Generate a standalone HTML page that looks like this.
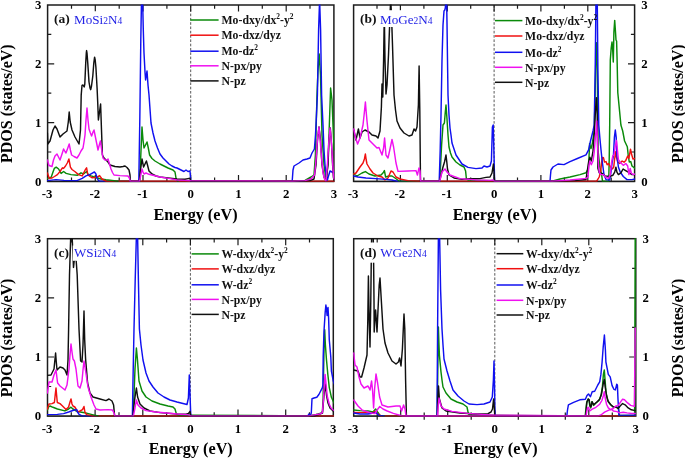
<!DOCTYPE html><html><head><meta charset="utf-8"><title>PDOS</title><style>html,body{margin:0;padding:0;background:#fff}svg{display:block;will-change:transform;transform:translateZ(0)}text{font-family:"Liberation Serif",serif}</style></head><body>
<svg width="685" height="460" viewBox="0 0 685 460">
<rect width="685" height="460" fill="#fff"/>
<g>
<clipPath id="cpa"><rect x="47.1" y="4.5" width="287.3" height="177.6"/></clipPath>
<line x1="190.7" y1="5.0" x2="190.7" y2="181.4" stroke="#222" stroke-width="0.75" stroke-dasharray="2.6,1.7"/>
<rect x="47.6" y="5.0" width="286.3" height="176.4" fill="none" stroke="#1c1c1c" stroke-width="1.5"/>
<path d="M71.5 5.0 v3.8 M71.5 181.4 v-3.8 M95.3 5.0 v6.5 M95.3 181.4 v-6.5 M119.2 5.0 v3.8 M119.2 181.4 v-3.8 M143.0 5.0 v6.5 M143.0 181.4 v-6.5 M166.9 5.0 v3.8 M166.9 181.4 v-3.8 M190.7 5.0 v6.5 M190.7 181.4 v-6.5 M214.6 5.0 v3.8 M214.6 181.4 v-3.8 M238.5 5.0 v6.5 M238.5 181.4 v-6.5 M262.3 5.0 v3.8 M262.3 181.4 v-3.8 M286.2 5.0 v6.5 M286.2 181.4 v-6.5 M310.0 5.0 v3.8 M310.0 181.4 v-3.8 M47.6 152.0 h3.7 M47.6 122.6 h6.6 M47.6 93.2 h3.7 M47.6 63.8 h6.6 M47.6 34.4 h3.7" stroke="#1c1c1c" stroke-width="1.2" fill="none"/>
<g clip-path="url(#cpa)" fill="none" stroke-width="1.45" stroke-linejoin="round" stroke-linecap="round">
<polyline points="99.0,181.2 138.6,181.2 138.8,181.2" stroke="#1010f0"/>
<polyline points="190.8,181.2 292.2,181.2" stroke="#1010f0"/>
<polyline points="118.0,181.2 139.6,181.2" stroke="#0a8a0a"/>
<polyline points="178.0,181.2 296.0,181.2" stroke="#0a8a0a"/>
<polyline points="106.0,181.2 334.2,181.2" stroke="#f01010"/>
<polyline points="47.4,178.4 51.2,177.2 53.0,172.0 54.3,168.4 56.2,167.2 58.6,169.0 61.1,173.4 63.6,171.5 66.1,173.4 71.0,174.6 77.2,175.3 81.0,172.8 83.5,174.0 86.6,171.5 87.8,174.0 91.0,175.9 94.6,177.0 100.8,179.0 106.0,179.8 112.0,180.4 118.0,181.2" stroke="#0a8a0a"/>
<polyline points="139.6,181.2 140.6,160.0 142.0,127.0 143.0,140.0 144.0,148.0 145.5,145.0 147.0,142.0 148.3,148.0 149.6,155.0 152.0,158.5 155.0,161.0 160.0,164.0 164.0,166.0 168.0,168.0 173.0,170.0 175.0,172.0 176.0,178.0 177.0,180.5 178.0,181.2" stroke="#0a8a0a"/>
<polyline points="296.0,181.2 305.0,180.5 311.0,177.0 314.0,175.0 315.4,155.0 317.0,95.0 318.0,70.0 319.2,54.0 320.5,75.0 322.0,135.0 324.0,165.0 325.5,176.0 326.6,179.0 328.0,160.0 329.0,135.0 330.6,88.0 332.0,100.0 333.0,125.0 334.0,150.0" stroke="#0a8a0a"/>
<polyline points="47.4,173.0 49.3,178.4 52.0,178.0 54.5,176.5 57.4,174.6 60.0,171.5 62.4,167.8 63.6,168.4 65.5,166.0 67.3,163.0 68.9,159.0 70.4,167.2 72.0,169.5 74.8,171.5 78.5,174.6 82.2,175.9 85.3,169.7 86.6,167.8 87.8,174.6 90.0,176.5 92.2,177.8 97.1,177.2 99.6,175.6 102.0,179.0 106.0,181.2" stroke="#f01010"/>
<polyline points="47.4,180.6 56.0,179.6 64.0,180.4 77.0,180.6 82.2,178.4 86.0,175.9 89.7,174.6 92.8,172.8 94.4,171.9 95.9,174.0 97.1,178.4 99.0,181.2" stroke="#1010f0"/>
<polyline points="138.8,181.2 139.8,120.0 140.8,40.0 141.5,0.0 142.6,0.0 143.3,30.0 144.0,53.0 145.0,72.0 145.6,80.0 147.0,71.0 148.0,85.0 149.0,95.0 151.0,123.0 153.0,133.0 155.0,141.0 157.5,148.0 160.0,154.0 163.0,158.0 166.0,161.0 169.0,164.0 172.0,166.0 175.0,167.5 177.0,168.0 181.0,170.0 184.0,171.5 186.0,170.0 188.0,171.5 190.0,171.0 190.8,181.2" stroke="#1010f0"/>
<polyline points="292.2,181.2 293.0,170.0 294.0,166.0 299.0,163.0 303.0,160.0 307.0,159.0 310.0,158.0 312.0,153.0 314.4,149.0 315.5,135.0 316.0,125.0 317.4,95.0 318.6,30.0 319.6,0.0 320.6,30.0 321.6,95.0 323.0,125.0 324.0,150.0 325.0,165.0 326.3,176.0 327.4,180.0 328.5,176.0 330.0,171.0 332.0,172.0 334.0,173.0" stroke="#1010f0"/>
<polyline points="47.4,133.0 47.8,144.0 50.0,141.0 53.0,130.0 55.0,126.0 57.0,129.0 60.0,137.0 63.0,134.0 67.0,131.0 68.3,122.0 69.2,112.0 70.2,122.0 72.0,130.0 75.0,137.0 79.0,144.0 80.5,130.0 81.2,95.0 82.0,85.5 83.0,85.0 84.2,87.0 84.8,84.0 85.7,63.6 86.3,53.0 86.6,50.6 87.0,53.0 87.8,63.6 89.0,82.0 90.0,88.0 90.7,89.7 91.5,86.0 92.8,76.0 93.8,63.0 94.6,57.2 95.2,60.0 95.9,67.3 97.1,88.4 97.7,102.0 98.4,120.0 99.5,112.0 100.6,104.0 101.5,130.0 102.4,155.0 104.0,158.0 106.0,160.0 108.0,162.0 110.0,165.0 115.0,166.5 120.0,167.0 123.0,166.5 125.0,166.0 127.0,167.5 129.0,170.0 130.0,175.0 130.4,181.2 139.4,181.2 140.5,170.0 142.0,159.0 143.6,167.0 145.0,164.0 146.4,161.0 147.5,165.0 149.0,171.0 152.0,174.0 156.0,176.0 160.0,177.0 168.0,178.0 177.0,179.0 185.0,179.3 188.0,178.6 190.0,178.2 190.6,181.2 300.0,181.2 310.0,180.5 314.0,179.0 316.0,165.0 317.5,140.0 319.0,127.0 320.5,140.0 322.0,165.0 324.0,177.0 326.0,180.8 328.0,165.0 329.0,140.0 330.3,128.0 331.6,145.0 332.6,165.0 333.4,177.0 334.0,180.0" stroke="#101010"/>
<polyline points="47.4,160.0 49.0,165.5 52.0,166.5 53.5,160.0 55.0,156.0 57.0,154.0 58.5,157.0 60.0,160.0 62.0,154.0 63.6,149.0 65.0,151.5 66.0,153.0 67.8,148.0 69.2,144.0 70.4,150.0 71.6,155.0 74.0,156.5 77.0,158.0 79.0,155.0 81.0,151.0 83.0,148.0 84.0,142.0 85.0,135.0 86.0,120.0 87.0,108.0 88.0,120.0 89.0,129.0 90.4,133.0 91.6,136.0 93.0,132.0 94.0,130.0 96.0,140.0 98.0,150.0 99.3,145.0 100.4,141.0 101.7,150.0 103.0,158.0 105.0,160.0 106.5,160.0 108.0,159.0 109.5,164.0 111.0,169.0 112.5,172.5 114.0,175.0 120.0,175.6 128.0,176.0 129.4,178.0 130.2,181.2 139.6,181.2 140.8,175.0 142.0,169.0 143.0,172.0 144.0,174.0 146.0,173.0 149.0,174.3 152.0,175.0 160.0,177.0 170.0,178.6 177.0,180.0 185.0,180.4 190.6,180.8 292.5,181.2 305.0,180.6 311.0,179.0 314.6,175.0 316.0,160.0 317.0,145.0 318.0,134.0 319.0,127.0 320.0,138.0 321.0,151.0 322.0,163.0 323.0,173.0 324.5,179.0 326.0,181.0 327.0,170.0 328.0,155.0 329.0,140.0 330.0,128.0 330.8,135.0 331.6,145.0 332.6,162.0 333.4,175.0 334.0,179.0" stroke="#f010f0"/>
</g>
<line x1="47.6" y1="181.4" x2="333.9" y2="181.4" stroke="#1c1c1c" stroke-width="1.5" stroke-opacity="0.4"/>
<g font-weight="bold" font-size="12.8" fill="#000">
<text x="47.1" y="198.4" text-anchor="middle">-3</text>
<text x="94.8" y="198.4" text-anchor="middle">-2</text>
<text x="142.5" y="198.4" text-anchor="middle">-1</text>
<text x="190.7" y="198.4" text-anchor="middle">0</text>
<text x="238.5" y="198.4" text-anchor="middle">1</text>
<text x="286.2" y="198.4" text-anchor="middle">2</text>
<text x="333.9" y="198.4" text-anchor="middle">3</text>
<text x="41.3" y="185.6" text-anchor="end">0</text>
<text x="41.3" y="126.8" text-anchor="end">1</text>
<text x="41.3" y="68.0" text-anchor="end">2</text>
<text x="41.3" y="9.2" text-anchor="end">3</text>
</g>
<text x="195.5" y="220.0" text-anchor="middle" font-weight="bold" font-size="16.2">Energy (eV)</text>
<text transform="translate(11.6,103.7) rotate(-90)" text-anchor="middle" font-weight="bold" font-size="16">PDOS (states/eV)</text>
<rect x="52.1" y="11.5" width="17.0" height="15.5" fill="#fff"/>
<rect x="72.8" y="11.5" width="52.0" height="15.5" fill="#fff"/>
<text x="54.0" y="23.4" font-weight="bold" font-size="13.5" fill="#111">(a)</text>
<text x="74.1" y="23.6" font-size="13.1" fill="#2222e6">MoSi<tspan font-size="9.5">2</tspan>N<tspan font-size="9.5">4</tspan></text>
<g font-weight="bold" font-size="11.75" fill="#111">
<line x1="190.3" y1="20.0" x2="218.6" y2="20.0" stroke="#0a8a0a" stroke-width="1.5"/>
<text x="221.5" y="24.2">Mo-dxy/dx<tspan font-size="7.4" dy="-5">2</tspan><tspan dy="5">-y</tspan><tspan font-size="7.4" dy="-5">2</tspan></text>
<line x1="190.3" y1="35.2" x2="218.6" y2="35.2" stroke="#f01010" stroke-width="1.5"/>
<text x="221.5" y="39.4">Mo-dxz/dyz</text>
<line x1="190.3" y1="51.2" x2="218.6" y2="51.2" stroke="#1010f0" stroke-width="1.5"/>
<text x="221.5" y="55.4">Mo-dz<tspan font-size="7.4" dy="-5">2</tspan></text>
<line x1="190.3" y1="65.8" x2="218.6" y2="65.8" stroke="#f010f0" stroke-width="1.5"/>
<text x="221.5" y="70.0">N-px/py</text>
<line x1="190.3" y1="80.9" x2="218.6" y2="80.9" stroke="#101010" stroke-width="1.5"/>
<text x="221.5" y="85.1">N-pz</text>
</g>
</g>
<g>
<clipPath id="cpb"><rect x="353.1" y="4.5" width="282.0" height="177.6"/></clipPath>
<line x1="494.1" y1="5.0" x2="494.1" y2="181.4" stroke="#222" stroke-width="0.75" stroke-dasharray="2.6,1.7"/>
<rect x="353.6" y="5.0" width="281.0" height="176.4" fill="none" stroke="#1c1c1c" stroke-width="1.5"/>
<path d="M377.0 5.0 v3.8 M377.0 181.4 v-3.8 M400.4 5.0 v6.5 M400.4 181.4 v-6.5 M423.9 5.0 v3.8 M423.9 181.4 v-3.8 M447.3 5.0 v6.5 M447.3 181.4 v-6.5 M470.7 5.0 v3.8 M470.7 181.4 v-3.8 M494.1 5.0 v6.5 M494.1 181.4 v-6.5 M517.5 5.0 v3.8 M517.5 181.4 v-3.8 M540.9 5.0 v6.5 M540.9 181.4 v-6.5 M564.4 5.0 v3.8 M564.4 181.4 v-3.8 M587.8 5.0 v6.5 M587.8 181.4 v-6.5 M611.2 5.0 v3.8 M611.2 181.4 v-3.8 M634.6 152.0 h-3.7 M634.6 122.6 h-6.6 M634.6 93.2 h-3.7 M634.6 63.8 h-6.6 M634.6 34.4 h-3.7" stroke="#1c1c1c" stroke-width="1.2" fill="none"/>
<g clip-path="url(#cpb)" fill="none" stroke-width="1.45" stroke-linejoin="round" stroke-linecap="round">
<polyline points="397.0,181.2 439.2,181.2 439.2,181.2" stroke="#1010f0"/>
<polyline points="494.6,181.2 550.0,181.2" stroke="#1010f0"/>
<polyline points="420.0,181.2 439.6,181.2" stroke="#0a8a0a"/>
<polyline points="602.5,181.2 608.7,181.2" stroke="#0a8a0a"/>
<polyline points="420.0,181.2 596.7,181.2" stroke="#f01010"/>
<polyline points="353.7,174.0 357.0,176.0 362.0,173.0 365.4,171.6 369.0,174.0 375.0,176.0 381.0,175.0 383.0,173.0 384.4,170.6 385.6,177.0 389.0,176.0 392.0,176.0 395.0,178.0 399.0,181.0 420.0,181.2" stroke="#0a8a0a"/>
<polyline points="439.6,181.2 440.6,165.0 441.6,145.0 443.0,125.0 444.4,123.0 445.3,112.0 446.0,105.0 447.0,119.0 448.0,135.0 449.0,147.0 450.5,153.0 452.0,157.0 456.0,162.0 460.0,165.0 464.0,167.0 465.6,171.0 466.4,179.0 468.0,180.0 480.0,180.4 494.4,180.6 552.0,181.2 560.0,179.0 570.0,177.0 580.0,174.6 586.0,172.8 588.4,168.4 588.9,159.7 589.6,143.6 591.0,148.6 592.3,143.6 594.2,131.0 595.0,100.0 595.8,60.0 596.6,42.7 597.3,70.0 598.0,149.8 599.8,167.0 601.6,174.6 602.5,181.2" stroke="#0a8a0a"/>
<polyline points="608.7,181.2 609.2,160.0 609.7,125.0 610.3,60.0 611.2,48.0 612.0,42.0 612.7,50.0 613.3,62.0 613.9,32.0 614.7,20.4 615.5,32.0 616.0,40.0 616.6,41.0 617.1,60.0 617.8,92.8 619.6,111.4 620.9,125.0 622.7,131.0 624.6,141.0 627.3,146.7 628.3,156.0 629.3,162.0 630.8,161.6 632.0,166.0 635.0,168.4" stroke="#0a8a0a"/>
<polyline points="353.7,174.0 356.0,173.0 360.0,167.0 363.0,163.0 364.4,159.0 365.4,154.0 366.2,160.0 367.0,164.0 370.0,169.0 373.0,173.0 378.0,176.0 382.0,177.0 385.0,180.0 388.0,178.0 391.0,171.0 393.0,172.0 396.0,177.0 400.0,179.0 408.0,180.6 420.0,181.2" stroke="#f01010"/>
<polyline points="596.7,181.2 599.2,177.0 600.8,171.0 601.6,162.0 602.5,157.5 603.5,157.8 604.5,162.0 606.0,161.6 607.2,164.7 608.5,163.5 610.3,166.6 612.2,169.0 613.7,167.2 614.7,158.5 615.7,151.7 616.5,157.3 617.8,162.2 619.6,163.5 622.1,161.0 624.0,162.2 625.8,160.4 627.7,156.0 628.9,158.5 630.5,149.2 631.7,154.8 633.0,159.0 635.0,158.5" stroke="#f01010"/>
<polyline points="353.7,176.0 358.0,177.0 366.0,178.0 376.0,178.6 386.0,179.4 392.0,180.0 397.0,181.2" stroke="#1010f0"/>
<polyline points="439.2,181.2 440.2,150.0 441.0,115.0 442.0,60.0 443.0,25.0 444.0,11.0 444.8,10.0 445.3,8.0 446.0,0.0 446.6,0.0 447.0,23.0 447.5,60.0 448.0,95.0 449.0,115.0 450.0,128.0 451.0,135.0 452.0,143.0 454.0,149.0 456.0,155.0 458.0,158.0 462.0,164.0 468.0,167.4 476.0,168.6 482.0,168.0 484.0,166.0 487.0,167.0 490.0,166.0 491.4,161.0 492.4,127.0 493.2,125.0 494.0,155.0 494.6,181.2" stroke="#1010f0"/>
<polyline points="550.0,181.2 550.5,175.0 551.0,170.0 553.0,167.0 558.0,164.0 564.0,164.6 570.0,161.6 577.4,158.5 586.0,154.8 588.6,149.8 590.5,141.0 593.0,131.0 594.2,125.0 595.2,70.0 595.9,5.0 596.6,0.0 597.3,5.0 597.9,70.0 598.8,125.0 599.8,137.4 601.0,149.8 602.3,162.0 604.0,174.6 606.0,179.6 609.7,180.0 611.0,172.0 612.2,162.0 613.4,156.0 614.4,137.4 615.3,130.0 616.2,137.4 616.9,156.0 618.4,167.0 620.2,172.0 623.3,176.5 627.0,179.6 632.0,179.6 635.0,179.0" stroke="#1010f0"/>
<polyline points="353.7,130.0 356.0,140.0 357.3,134.0 358.4,129.0 360.0,138.0 362.0,132.0 365.0,130.0 369.0,132.0 372.0,135.0 376.0,136.0 378.0,138.0 380.0,131.0 381.4,107.0 382.0,84.0 382.8,97.0 383.6,60.0 384.3,14.0 385.0,60.0 386.0,94.0 387.0,85.0 388.5,55.0 390.0,15.0 390.7,0.0 391.5,15.0 392.5,45.0 394.0,95.0 395.5,110.0 397.0,121.0 400.0,128.0 404.0,133.0 409.0,136.0 412.0,135.0 414.0,129.0 415.6,131.0 417.0,127.0 418.4,105.0 419.1,66.0 419.8,110.0 420.5,181.2 439.6,181.2 441.0,175.0 443.0,167.0 444.5,162.0 446.0,155.0 446.8,162.0 447.5,169.0 449.0,175.0 454.0,178.0 462.0,179.4 470.0,178.6 480.0,178.6 486.0,177.4 490.0,177.0 492.0,173.0 493.4,164.0 494.0,172.0 494.6,181.2 550.0,181.2 575.0,180.6 586.0,179.5 588.6,162.0 589.9,157.3 591.3,161.0 593.0,151.0 594.5,130.0 595.5,110.0 596.4,97.8 597.2,115.0 597.9,168.4 599.2,172.8 602.3,173.4 604.7,175.9 609.7,176.5 612.8,175.3 614.7,172.2 615.9,167.2 616.9,172.2 618.4,174.6 620.9,172.8 623.1,169.0 625.2,170.3 628.3,172.2 632.0,174.6 635.0,174.6" stroke="#101010"/>
<polyline points="353.7,129.0 355.6,138.0 357.6,144.0 360.0,138.0 363.0,125.0 364.3,113.0 365.4,102.0 366.2,112.0 367.0,121.0 369.0,140.0 372.0,143.0 377.0,148.0 379.0,147.5 382.0,155.0 383.6,148.0 384.6,138.0 385.3,147.0 386.0,155.0 388.0,158.0 390.0,149.0 392.0,139.4 393.6,147.0 396.0,163.0 398.0,171.4 408.0,171.0 416.0,170.6 417.4,175.0 419.0,168.0 420.0,171.0 420.6,181.2 439.8,181.2 441.0,176.0 442.0,172.0 445.0,169.0 447.0,172.0 450.0,175.0 460.0,178.6 477.0,180.0 490.0,180.4 493.0,180.0 494.4,181.2 552.0,181.2 570.0,180.0 586.0,178.4 588.0,177.0 588.9,166.0 589.9,161.0 591.3,164.7 593.0,161.0 594.2,152.3 595.4,137.4 596.3,127.5 596.7,121.0 597.3,137.4 598.3,162.2 599.2,172.0 601.0,174.6 603.5,174.6 605.4,177.0 608.5,178.4 610.3,174.6 611.6,162.2 612.8,156.0 614.0,154.8 615.3,146.0 616.5,140.5 617.4,149.8 618.4,159.7 620.2,162.2 623.3,165.3 625.8,163.5 627.7,166.0 628.9,174.6 630.2,168.4 631.4,173.4 633.3,174.6 635.0,174.0" stroke="#f010f0"/>
</g>
<line x1="353.6" y1="181.4" x2="634.6" y2="181.4" stroke="#1c1c1c" stroke-width="1.5" stroke-opacity="0.4"/>
<g font-weight="bold" font-size="12.8" fill="#000">
<text x="353.1" y="198.4" text-anchor="middle">-3</text>
<text x="399.9" y="198.4" text-anchor="middle">-2</text>
<text x="446.8" y="198.4" text-anchor="middle">-1</text>
<text x="494.1" y="198.4" text-anchor="middle">0</text>
<text x="540.9" y="198.4" text-anchor="middle">1</text>
<text x="587.8" y="198.4" text-anchor="middle">2</text>
<text x="634.6" y="198.4" text-anchor="middle">3</text>
<text x="641.2" y="185.6" text-anchor="start">0</text>
<text x="641.2" y="126.8" text-anchor="start">1</text>
<text x="641.2" y="68.0" text-anchor="start">2</text>
<text x="641.2" y="9.2" text-anchor="start">3</text>
</g>
<text x="494.8" y="220.0" text-anchor="middle" font-weight="bold" font-size="16.2">Energy (eV)</text>
<text transform="translate(682.8,103.7) rotate(-90)" text-anchor="middle" font-weight="bold" font-size="16">PDOS (states/eV)</text>
<rect x="358.1" y="10.2" width="17.0" height="16.8" fill="#fff"/>
<rect x="378.8" y="10.2" width="58.0" height="16.8" fill="#fff"/>
<text x="360.0" y="23.4" font-weight="bold" font-size="13.5" fill="#111">(b)</text>
<text x="380.1" y="23.6" font-size="13.1" fill="#2222e6">MoGe<tspan font-size="9.5">2</tspan>N<tspan font-size="9.5">4</tspan></text>
<g font-weight="bold" font-size="11.75" fill="#111">
<line x1="495.0" y1="20.6" x2="522.4" y2="20.6" stroke="#0a8a0a" stroke-width="1.5"/>
<text x="525.1" y="24.8">Mo-dxy/dx<tspan font-size="7.4" dy="-5">2</tspan><tspan dy="5">-y</tspan><tspan font-size="7.4" dy="-5">2</tspan></text>
<line x1="495.0" y1="36.0" x2="522.4" y2="36.0" stroke="#f01010" stroke-width="1.5"/>
<text x="525.1" y="40.2">Mo-dxz/dyz</text>
<line x1="495.0" y1="52.3" x2="522.4" y2="52.3" stroke="#1010f0" stroke-width="1.5"/>
<text x="525.1" y="56.5">Mo-dz<tspan font-size="7.4" dy="-5">2</tspan></text>
<line x1="495.0" y1="67.3" x2="522.4" y2="67.3" stroke="#f010f0" stroke-width="1.5"/>
<text x="525.1" y="71.5">N-px/py</text>
<line x1="495.0" y1="82.3" x2="522.4" y2="82.3" stroke="#101010" stroke-width="1.5"/>
<text x="525.1" y="86.5">N-pz</text>
</g>
</g>
<g>
<clipPath id="cpc"><rect x="47.0" y="238.2" width="286.8" height="178.6"/></clipPath>
<line x1="190.4" y1="238.7" x2="190.4" y2="416.1" stroke="#222" stroke-width="0.75" stroke-dasharray="2.6,1.7"/>
<rect x="47.5" y="238.7" width="285.8" height="177.4" fill="none" stroke="#1c1c1c" stroke-width="1.5"/>
<path d="M71.3 238.7 v3.8 M71.3 416.1 v-3.8 M95.1 238.7 v6.5 M95.1 416.1 v-6.5 M119.0 238.7 v3.8 M119.0 416.1 v-3.8 M142.8 238.7 v6.5 M142.8 416.1 v-6.5 M166.6 238.7 v3.8 M166.6 416.1 v-3.8 M190.4 238.7 v6.5 M190.4 416.1 v-6.5 M214.2 238.7 v3.8 M214.2 416.1 v-3.8 M238.0 238.7 v6.5 M238.0 416.1 v-6.5 M261.9 238.7 v3.8 M261.9 416.1 v-3.8 M285.7 238.7 v6.5 M285.7 416.1 v-6.5 M309.5 238.7 v3.8 M309.5 416.1 v-3.8 M47.5 386.5 h3.7 M47.5 357.0 h6.6 M47.5 327.4 h3.7 M47.5 297.8 h6.6 M47.5 268.3 h3.7" stroke="#1c1c1c" stroke-width="1.2" fill="none"/>
<g clip-path="url(#cpc)" fill="none" stroke-width="1.45" stroke-linejoin="round" stroke-linecap="round">
<polyline points="82.0,415.9 132.4,415.9 132.4,415.9" stroke="#1010f0"/>
<polyline points="190.8,415.9 307.8,415.9" stroke="#1010f0"/>
<polyline points="98.0,415.9 133.0,415.9" stroke="#0a8a0a"/>
<polyline points="92.0,415.9 334.2,415.9" stroke="#f01010"/>
<polyline points="47.4,410.0 48.6,407.0 50.0,406.0 53.0,407.3 57.4,409.0 64.9,410.9 68.6,409.0 71.0,407.2 72.9,409.0 77.3,411.5 84.7,412.8 92.2,414.6 98.0,415.9" stroke="#0a8a0a"/>
<polyline points="133.0,415.9 134.0,395.0 135.0,369.0 136.4,348.0 137.4,359.0 139.0,381.0 142.0,391.0 146.0,397.0 152.0,401.0 160.0,404.0 168.0,406.0 173.0,407.0 175.0,409.0 176.4,414.0 178.0,415.0 190.8,415.2 308.0,415.9 316.0,414.5 321.0,413.3 322.4,411.5 323.1,398.7 323.6,371.0 324.1,345.0 324.7,329.8 325.4,345.0 326.5,360.0 327.9,375.0 329.3,387.6 331.4,397.3 334.2,403.5" stroke="#0a8a0a"/>
<polyline points="47.4,409.0 49.0,404.0 52.0,403.6 54.4,402.5 55.3,394.0 56.0,388.0 56.6,395.0 57.3,402.5 60.0,403.6 62.0,405.5 66.0,409.6 68.6,407.0 70.0,402.0 71.0,399.0 72.0,404.0 73.0,406.0 74.8,407.0 77.9,412.0 80.0,411.0 82.5,409.6 84.0,406.5 84.9,412.0 86.5,414.6 92.0,415.9" stroke="#f01010"/>
<polyline points="47.4,414.6 57.4,414.4 63.6,413.6 68.6,412.0 73.5,410.3 76.6,409.6 77.5,412.0 79.1,414.4 82.0,415.9" stroke="#1010f0"/>
<polyline points="132.4,415.9 133.0,380.0 134.0,329.0 135.2,280.0 136.4,236.0 137.6,236.0 138.4,280.0 139.4,329.0 141.0,345.0 143.0,360.0 146.0,373.0 149.0,381.0 153.0,387.0 158.0,393.0 164.0,397.0 170.0,400.0 177.0,402.0 183.0,403.5 187.0,404.5 188.4,398.0 189.3,375.0 189.9,392.0 190.8,415.9" stroke="#1010f0"/>
<polyline points="307.8,415.9 309.0,414.0 310.5,415.0 311.3,413.0 312.0,398.7 314.0,398.0 316.8,397.3 318.9,394.5 322.4,387.6 322.9,384.8 323.2,357.0 324.0,331.0 325.2,312.0 325.9,305.0 326.5,309.0 327.1,315.5 327.6,310.0 328.0,307.4 328.6,318.0 329.3,340.0 330.8,357.0 331.4,371.0 333.2,380.6 334.2,384.0" stroke="#1010f0"/>
<polyline points="47.4,375.4 51.0,375.0 54.0,369.0 54.9,360.0 55.6,353.0 56.3,362.0 57.0,370.0 60.0,367.0 63.0,368.0 65.0,370.0 67.0,375.0 68.0,360.0 68.6,329.0 69.5,275.0 70.6,240.0 71.0,225.0 71.6,225.0 72.5,245.0 73.5,267.4 74.2,261.0 75.2,258.0 76.2,261.0 77.2,275.0 79.0,329.0 80.6,361.0 82.0,362.0 83.0,345.0 84.0,311.0 84.7,340.0 85.6,359.0 87.6,383.0 90.0,393.0 93.0,397.0 100.0,399.0 106.0,400.6 109.0,399.0 112.0,401.0 113.6,405.0 114.6,415.9 133.0,415.9 134.0,405.0 135.0,397.0 136.4,388.0 137.6,397.0 140.0,404.0 144.0,408.0 150.0,411.0 160.0,412.6 177.0,414.0 186.0,414.2 188.5,413.5 190.0,411.5 190.8,415.9 315.0,415.9 322.5,413.0 324.0,395.0 325.3,384.0 326.5,395.0 328.0,403.0 330.0,408.0 334.2,412.0" stroke="#101010"/>
<polyline points="47.4,393.0 49.0,382.0 52.0,382.0 54.0,375.0 56.0,370.0 57.6,383.0 60.0,386.0 65.0,390.0 67.0,385.0 69.0,369.0 70.0,355.0 71.0,344.0 72.0,352.0 73.0,359.0 74.4,361.0 76.0,369.0 78.0,386.0 80.0,388.0 82.0,381.0 83.0,370.0 84.0,361.0 85.6,371.0 88.0,387.0 91.0,397.0 94.0,405.0 96.0,409.0 100.0,410.0 108.0,409.6 112.4,410.0 114.0,413.0 114.8,415.9 133.4,415.9 135.0,408.0 136.4,400.0 138.0,405.0 141.0,408.0 146.0,410.6 156.0,412.0 177.0,414.0 188.0,414.8 190.6,415.9 309.0,415.9 319.6,414.0 322.4,412.6 323.5,398.7 324.5,382.0 325.1,374.4 326.1,384.8 327.2,396.0 329.3,404.3 331.4,408.5 334.2,410.8" stroke="#f010f0"/>
</g>
<line x1="47.5" y1="416.1" x2="333.3" y2="416.1" stroke="#1c1c1c" stroke-width="1.5" stroke-opacity="0.4"/>
<g font-weight="bold" font-size="12.8" fill="#000">
<text x="47.0" y="433.1" text-anchor="middle">-3</text>
<text x="94.6" y="433.1" text-anchor="middle">-2</text>
<text x="142.3" y="433.1" text-anchor="middle">-1</text>
<text x="190.4" y="433.1" text-anchor="middle">0</text>
<text x="238.0" y="433.1" text-anchor="middle">1</text>
<text x="285.7" y="433.1" text-anchor="middle">2</text>
<text x="333.3" y="433.1" text-anchor="middle">3</text>
<text x="41.2" y="420.3" text-anchor="end">0</text>
<text x="41.2" y="361.2" text-anchor="end">1</text>
<text x="41.2" y="302.0" text-anchor="end">2</text>
<text x="41.2" y="242.9" text-anchor="end">3</text>
</g>
<text x="190.7" y="453.6" text-anchor="middle" font-weight="bold" font-size="16.2">Energy (eV)</text>
<text transform="translate(11.6,337.9) rotate(-90)" text-anchor="middle" font-weight="bold" font-size="16">PDOS (states/eV)</text>
<rect x="52.0" y="245.5" width="17.0" height="15.3" fill="#fff"/>
<rect x="72.7" y="245.5" width="48.0" height="15.3" fill="#fff"/>
<text x="53.9" y="257.1" font-weight="bold" font-size="13.5" fill="#111">(c)</text>
<text x="74.0" y="257.3" font-size="13.1" fill="#2222e6">WSi<tspan font-size="9.5">2</tspan>N<tspan font-size="9.5">4</tspan></text>
<g font-weight="bold" font-size="11.75" fill="#111">
<line x1="191.6" y1="253.9" x2="218.8" y2="253.9" stroke="#0a8a0a" stroke-width="1.5"/>
<text x="221.4" y="258.1">W-dxy/dx<tspan font-size="7.4" dy="-5">2</tspan><tspan dy="5">-y</tspan><tspan font-size="7.4" dy="-5">2</tspan></text>
<line x1="191.6" y1="268.9" x2="218.8" y2="268.9" stroke="#f01010" stroke-width="1.5"/>
<text x="221.4" y="273.1">W-dxz/dyz</text>
<line x1="191.6" y1="284.8" x2="218.8" y2="284.8" stroke="#1010f0" stroke-width="1.5"/>
<text x="221.4" y="289.0">W-dz<tspan font-size="7.4" dy="-5">2</tspan></text>
<line x1="191.6" y1="299.4" x2="218.8" y2="299.4" stroke="#f010f0" stroke-width="1.5"/>
<text x="221.4" y="303.6">N-px/py</text>
<line x1="191.6" y1="314.4" x2="218.8" y2="314.4" stroke="#101010" stroke-width="1.5"/>
<text x="221.4" y="318.6">N-pz</text>
</g>
</g>
<g>
<clipPath id="cpd"><rect x="353.2" y="238.2" width="283.1" height="178.6"/></clipPath>
<line x1="494.8" y1="238.7" x2="494.8" y2="416.1" stroke="#222" stroke-width="0.75" stroke-dasharray="2.6,1.7"/>
<rect x="353.7" y="238.7" width="282.1" height="177.4" fill="none" stroke="#1c1c1c" stroke-width="1.5"/>
<path d="M377.2 238.7 v3.8 M377.2 419.7 v-7.2 M400.7 238.7 v6.5 M400.7 416.1 v-6.5 M424.2 238.7 v3.8 M424.2 419.7 v-7.2 M447.7 238.7 v6.5 M447.7 416.1 v-6.5 M471.2 238.7 v3.8 M471.2 419.7 v-7.2 M494.8 238.7 v6.5 M494.8 416.1 v-6.5 M518.3 238.7 v3.8 M518.3 419.7 v-7.2 M541.8 238.7 v6.5 M541.8 416.1 v-6.5 M565.3 238.7 v3.8 M565.3 419.7 v-7.2 M588.8 238.7 v6.5 M588.8 416.1 v-6.5 M612.3 238.7 v3.8 M612.3 419.7 v-7.2 M635.8 386.5 h-3.7 M635.8 357.0 h-6.6 M635.8 327.4 h-3.7 M635.8 297.8 h-6.6 M635.8 268.3 h-3.7" stroke="#1c1c1c" stroke-width="1.2" fill="none"/>
<g clip-path="url(#cpd)" fill="none" stroke-width="1.45" stroke-linejoin="round" stroke-linecap="round">
<polyline points="384.0,415.9 437.0,415.9 437.0,415.9" stroke="#1010f0"/>
<polyline points="495.0,415.9 566.8,415.9" stroke="#1010f0"/>
<polyline points="384.0,415.9 437.2,415.9 437.2,415.9" stroke="#0a8a0a"/>
<polyline points="381.0,415.9 635.2,415.9" stroke="#f01010"/>
<polyline points="353.7,410.0 360.0,410.6 368.0,411.0 373.0,412.0 375.6,409.0 377.6,412.0 380.0,415.4 384.0,415.9" stroke="#0a8a0a"/>
<polyline points="437.2,415.9 437.8,370.0 438.4,327.0 439.0,345.0 439.4,355.0 441.0,372.0 442.0,380.0 443.0,387.0 446.0,393.0 451.0,399.0 457.0,402.0 463.0,404.0 467.0,407.0 468.4,414.0 470.0,415.0 494.6,415.3 585.2,415.9 586.6,403.0 587.9,399.2 588.9,399.4 589.7,405.4 590.7,407.9 591.8,401.7 593.5,405.4 595.9,403.0 599.0,400.5 600.9,395.5 602.4,386.8 603.4,374.4 604.3,370.0 605.1,380.6 606.1,393.0 607.7,400.5 610.2,404.2 613.3,407.3 617.0,407.3 618.5,409.1 619.5,415.4 634.6,415.4 635.2,236.0" stroke="#0a8a0a"/>
<polyline points="353.7,412.4 365.0,412.6 372.0,413.0 375.0,411.5 378.0,414.0 381.0,415.9" stroke="#f01010"/>
<polyline points="353.7,413.0 360.0,414.0 368.0,414.0 374.0,413.0 376.0,412.5 379.0,415.4 384.0,415.9" stroke="#1010f0"/>
<polyline points="437.0,415.9 437.6,329.0 438.4,236.0 439.6,236.0 440.6,290.0 442.0,329.0 443.0,345.0 444.0,359.0 447.0,371.0 450.0,381.0 453.0,390.0 458.0,396.0 464.0,401.0 469.0,404.0 477.0,404.6 484.0,404.0 490.0,402.0 492.3,397.0 493.4,380.0 494.0,361.0 494.5,385.0 495.0,415.9" stroke="#1010f0"/>
<polyline points="566.8,415.9 567.5,410.0 568.4,404.8 573.6,402.3 579.8,399.8 585.4,399.2 587.0,395.5 588.5,394.0 590.4,396.7 592.2,391.8 594.7,391.2 597.8,385.0 599.7,381.9 600.9,374.4 602.1,362.0 603.2,347.0 604.4,335.0 605.4,350.0 605.9,362.0 607.1,368.2 608.3,374.4 610.2,376.9 612.1,385.6 613.9,389.3 615.4,389.9 616.7,384.3 617.4,385.0 618.0,399.2 618.9,415.4 635.2,415.2" stroke="#1010f0"/>
<polyline points="353.7,370.0 358.0,371.0 360.0,377.0 361.6,377.0 364.0,368.0 367.0,355.0 367.8,320.0 368.4,276.0 369.0,310.0 370.0,347.0 370.8,300.0 371.4,250.0 371.9,225.0 373.0,225.0 373.5,250.0 374.0,300.0 374.2,332.0 375.0,318.0 375.6,310.0 376.3,320.0 377.0,332.0 378.0,310.0 379.2,285.0 380.0,278.0 381.0,295.0 383.0,329.0 385.0,343.0 388.0,353.0 392.0,361.0 396.0,364.0 398.4,362.0 399.6,358.0 401.0,366.0 402.4,349.0 403.3,329.0 404.0,314.0 404.8,329.0 405.6,380.0 406.4,415.9 437.4,415.9 438.0,395.0 438.5,386.0 439.4,399.0 442.0,408.0 446.0,411.0 460.0,413.0 477.0,414.0 488.0,413.6 491.0,412.0 492.5,409.0 493.6,399.0 494.3,408.0 494.8,415.9 585.6,415.9 586.9,402.0 588.3,399.0 589.2,400.0 590.1,406.0 591.0,406.8 592.2,401.7 593.7,404.8 596.6,402.3 599.7,399.2 601.5,394.3 603.1,384.3 604.3,379.4 605.2,386.8 606.5,395.5 608.3,401.7 610.8,404.8 613.9,407.3 616.4,407.3 618.3,408.5 620.1,406.0 622.6,403.6 625.1,404.8 628.2,407.9 631.3,409.8 635.2,410.6" stroke="#101010"/>
<polyline points="353.7,400.0 358.0,406.0 362.4,410.2 368.0,412.0 372.3,413.4 375.0,413.6 377.5,409.5 379.8,406.5 383.0,409.0 387.2,411.0 393.4,413.4 399.6,415.2 402.0,415.9 598.0,415.9 600.9,415.0 604.6,412.2 608.3,410.4 611.5,409.1 613.3,411.0 617.0,411.6 619.5,412.9 623.2,412.2 627.0,412.9 631.9,413.5 635.2,413.5" stroke="#f010f0"/>
<polyline points="353.7,353.0 355.0,365.0 357.0,367.0 359.0,377.0 361.0,384.0 364.0,388.0 368.0,386.0 370.0,390.0 371.6,381.0 372.6,391.0 373.6,408.0 374.6,389.0 376.0,374.0 377.6,383.0 379.6,397.0 382.0,405.0 388.0,407.0 396.0,406.0 400.0,406.0 401.6,411.0 403.6,405.0 405.0,409.0 406.0,415.9 437.6,415.9 438.3,405.0 439.0,398.0 441.0,406.0 444.0,409.0 452.0,411.4 468.0,413.4 485.0,414.6 494.6,415.2 586.0,415.9 587.5,407.9 588.5,407.3 589.7,411.0 592.2,409.1 595.9,407.3 599.7,404.2 601.9,400.5 603.4,395.5 604.3,391.8 605.2,398.0 606.5,404.2 608.3,407.9 610.8,409.8 613.3,408.5 615.8,406.0 618.3,405.4 620.8,401.7 622.6,399.2 624.5,399.8 627.6,402.9 630.7,405.4 634.4,406.4 635.2,328.0" stroke="#f010f0"/>
</g>
<line x1="353.7" y1="416.1" x2="635.8" y2="416.1" stroke="#1c1c1c" stroke-width="1.5" stroke-opacity="0.4"/>
<g font-weight="bold" font-size="12.8" fill="#000">
<text x="353.2" y="433.1" text-anchor="middle">-3</text>
<text x="400.2" y="433.1" text-anchor="middle">-2</text>
<text x="447.2" y="433.1" text-anchor="middle">-1</text>
<text x="494.8" y="433.1" text-anchor="middle">0</text>
<text x="541.8" y="433.1" text-anchor="middle">1</text>
<text x="588.8" y="433.1" text-anchor="middle">2</text>
<text x="635.8" y="433.1" text-anchor="middle">3</text>
<text x="642.4" y="420.3" text-anchor="start">0</text>
<text x="642.4" y="361.2" text-anchor="start">1</text>
<text x="642.4" y="302.0" text-anchor="start">2</text>
<text x="642.4" y="242.9" text-anchor="start">3</text>
</g>
<text x="495.5" y="454.0" text-anchor="middle" font-weight="bold" font-size="16.2">Energy (eV)</text>
<text transform="translate(682.8,337.9) rotate(-90)" text-anchor="middle" font-weight="bold" font-size="16">PDOS (states/eV)</text>
<rect x="358.2" y="242.5" width="17.0" height="20.2" fill="#fff"/>
<rect x="378.9" y="242.5" width="54.0" height="20.2" fill="#fff"/>
<text x="360.1" y="257.1" font-weight="bold" font-size="13.5" fill="#111">(d)</text>
<text x="380.2" y="257.3" font-size="13.1" fill="#2222e6">WGe<tspan font-size="9.5">2</tspan>N<tspan font-size="9.5">4</tspan></text>
<g font-weight="bold" font-size="11.75" fill="#111">
<line x1="496.6" y1="253.7" x2="523.3" y2="253.7" stroke="#101010" stroke-width="1.5"/>
<text x="525.9" y="257.9">W-dxy/dx<tspan font-size="7.4" dy="-5">2</tspan><tspan dy="5">-y</tspan><tspan font-size="7.4" dy="-5">2</tspan></text>
<line x1="496.6" y1="268.7" x2="523.3" y2="268.7" stroke="#f01010" stroke-width="1.5"/>
<text x="525.9" y="272.9">W-dxz/dyz</text>
<line x1="496.6" y1="285.0" x2="523.3" y2="285.0" stroke="#1010f0" stroke-width="1.5"/>
<text x="525.9" y="289.2">W-dz<tspan font-size="7.4" dy="-5">2</tspan></text>
<line x1="496.6" y1="300.3" x2="523.3" y2="300.3" stroke="#f010f0" stroke-width="1.5"/>
<text x="525.9" y="304.5">N-px/py</text>
<line x1="496.6" y1="315.0" x2="523.3" y2="315.0" stroke="#101010" stroke-width="1.5"/>
<text x="525.9" y="319.2">N-pz</text>
</g>
</g>
</svg></body></html>
